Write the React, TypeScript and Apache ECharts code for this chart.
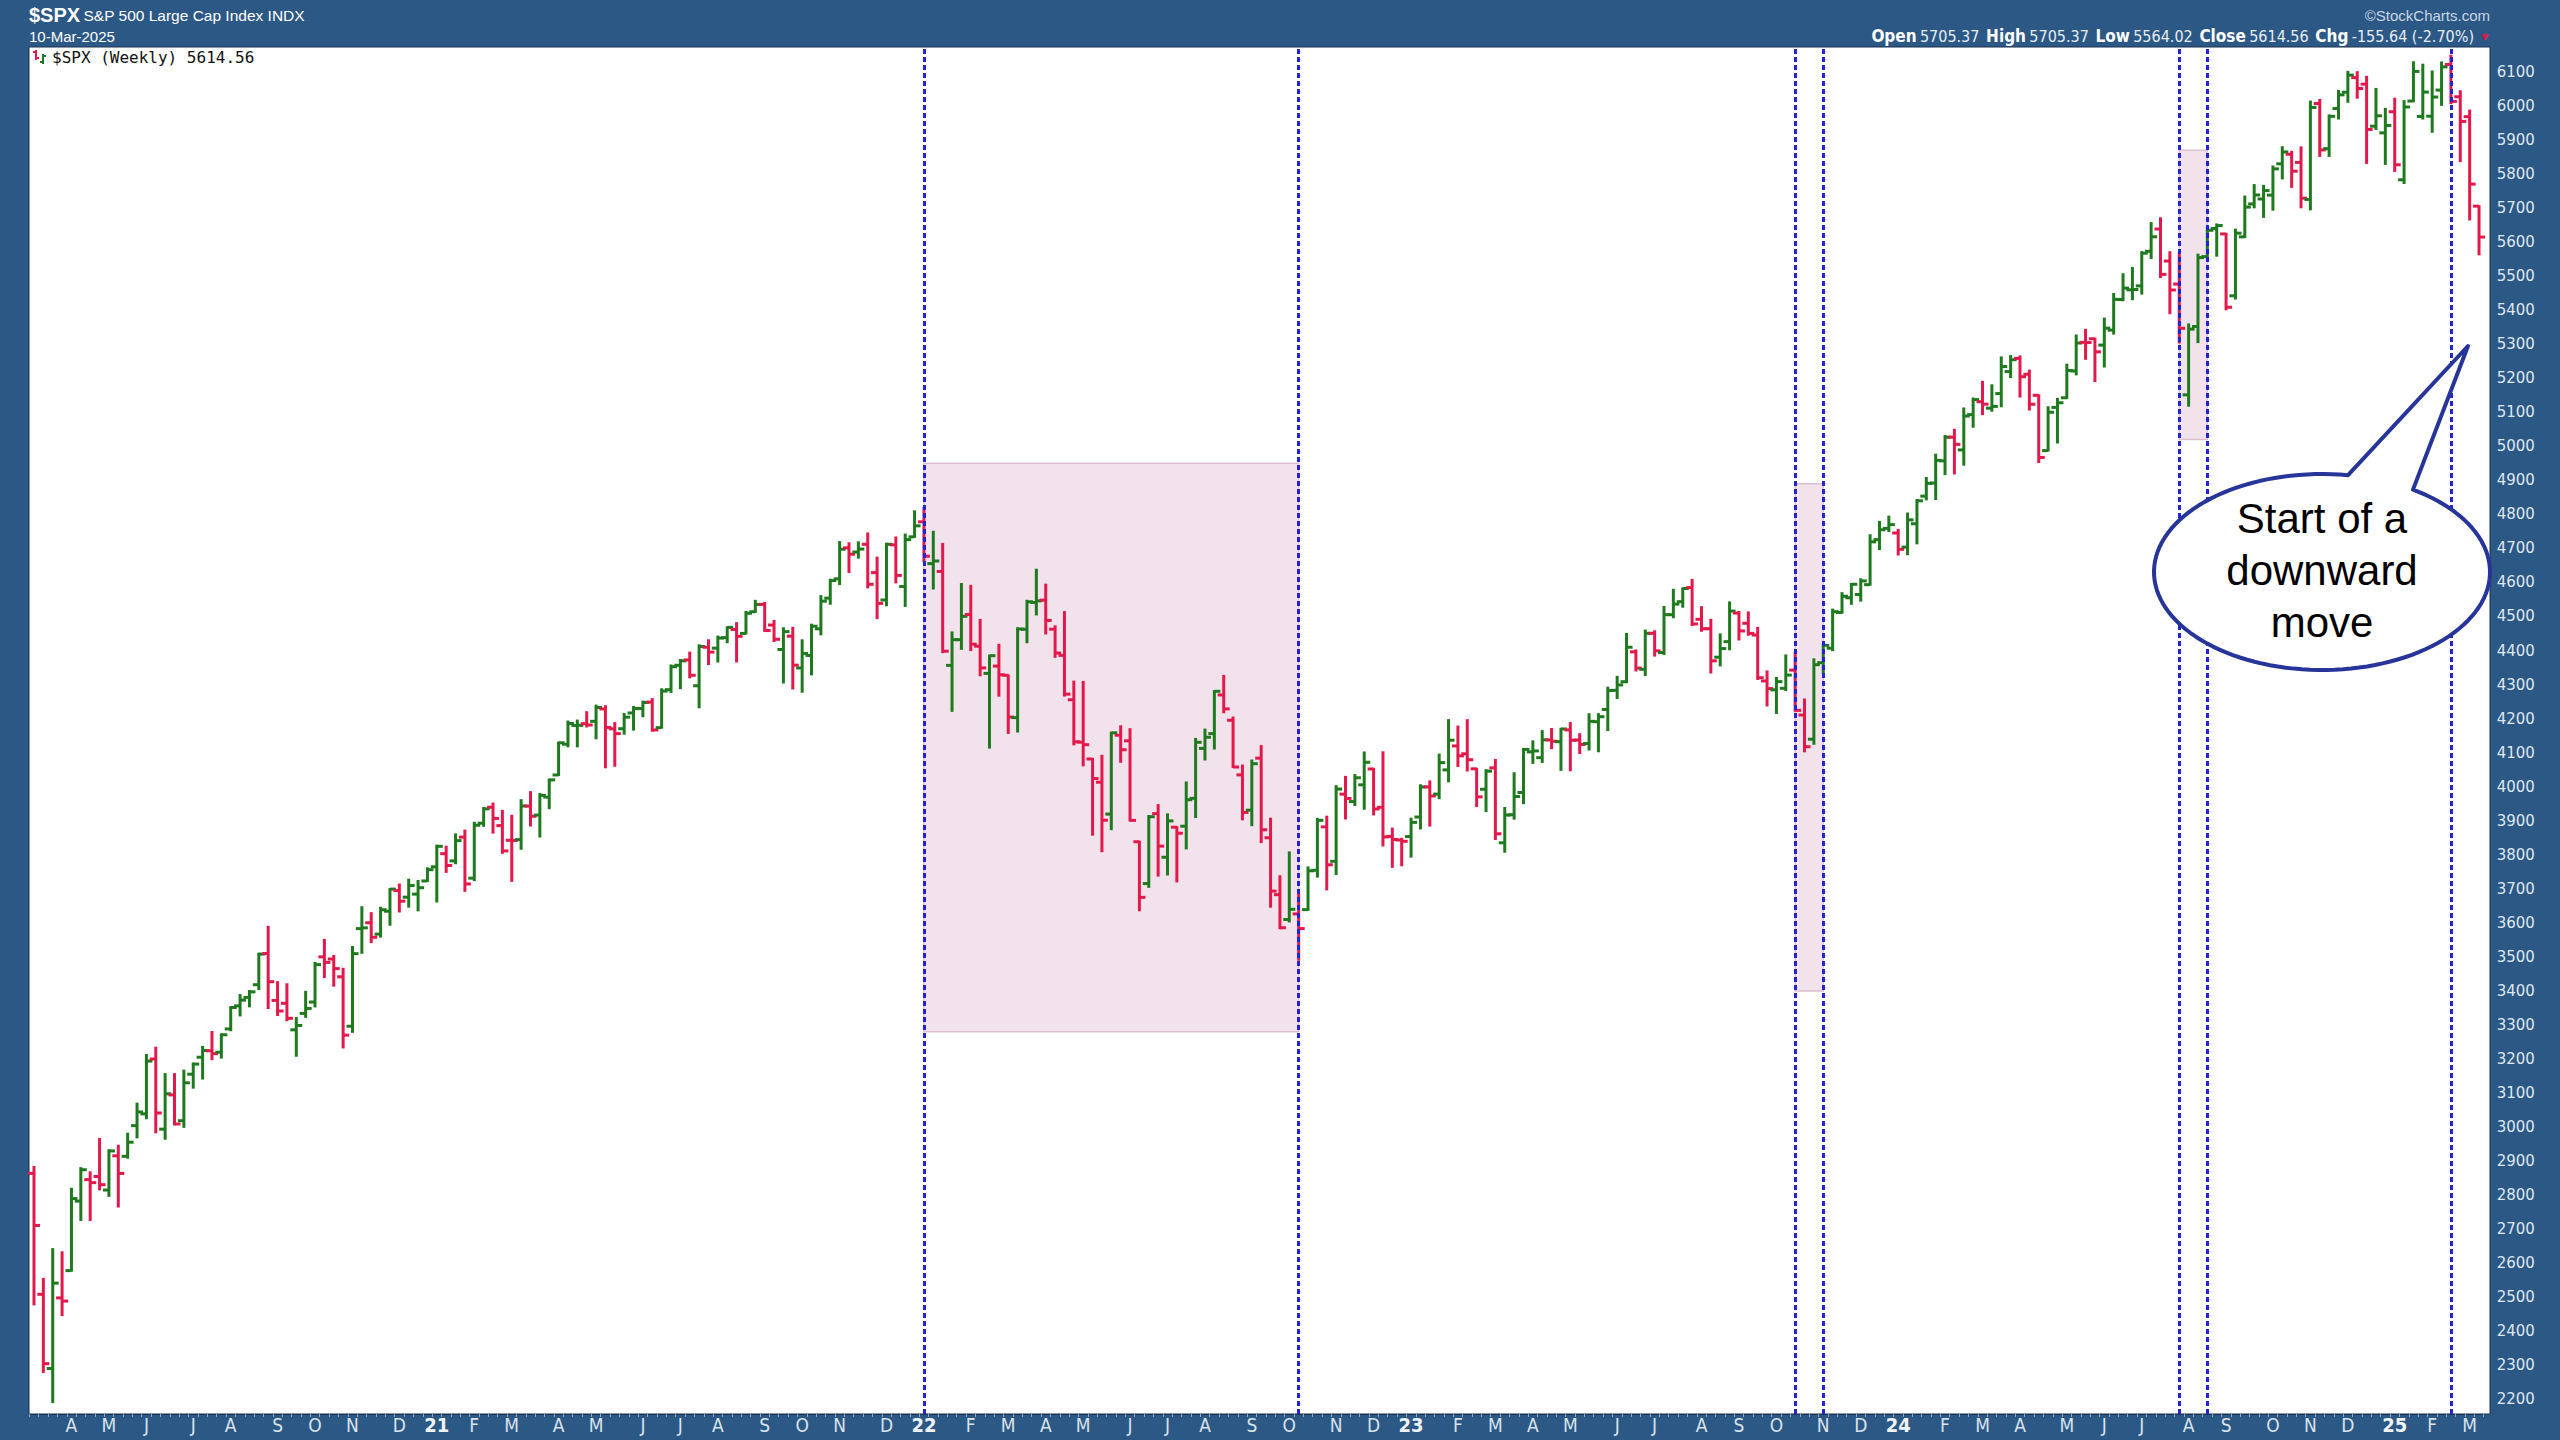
import React, { useEffect, useRef } from "react";
import * as echarts from "echarts";

// ---- Weekly $SPX bars (week starting Monday 2020-03-09 ... 2025-03-10) ----
const FIRST_MONDAY_UTC = [2020, 2, 9];

const opens = [
  2863.9, 2508.6, 2290.7, 2498.1, 2578.3, 2782.5, 2845.6, 2854.7, 2815.0, 2915.5,
  2914.0, 3004.1, 3038.8, 3199.9, 2993.8, 3094.4, 3018.6, 3155.3, 3205.1, 3224.3,
  3219.8, 3288.3, 3356.0, 3380.9, 3418.1, 3509.7, 3371.9, 3363.6, 3285.6, 3333.9,
  3367.3, 3500.0, 3493.7, 3441.4, 3296.2, 3583.0, 3600.2, 3566.8, 3634.2, 3694.7,
  3675.3, 3684.3, 3723.0, 3764.6, 3803.1, 3781.9, 3851.7, 3731.2, 3892.6, 3939.6,
  3885.6, 3842.5, 3844.4, 3942.9, 3916.5, 3969.3, 4034.4, 4124.7, 4179.8, 4185.0,
  4192.0, 4228.3, 4169.9, 4170.2, 4216.5, 4229.3, 4248.3, 4173.4, 4284.9, 4356.5,
  4372.4, 4296.4, 4409.6, 4406.9, 4437.8, 4461.7, 4450.3, 4513.8, 4535.4, 4474.8,
  4402.9, 4442.1, 4348.8, 4385.4, 4463.7, 4553.7, 4610.6, 4701.5, 4689.3, 4712.0,
  4628.8, 4548.4, 4710.3, 4587.9, 4734.0, 4778.1, 4655.3, 4632.2, 4356.3, 4431.8,
  4505.8, 4412.6, 4332.7, 4354.2, 4327.0, 4202.8, 4462.4, 4541.1, 4548.0, 4462.6,
  4385.6, 4255.3, 4130.6, 4081.3, 4013.0, 3919.4, 4151.1, 4134.7, 3838.2, 3715.3,
  3920.8, 3792.6, 3880.9, 3883.8, 3965.7, 4112.4, 4155.9, 4269.4, 4195.1, 4034.6,
  3930.9, 4083.7, 3849.9, 3682.7, 3609.8, 3626.1, 3638.7, 3754.4, 3881.9, 3780.7,
  3978.0, 3956.2, 4005.4, 4052.0, 3939.3, 3853.8, 3843.3, 3853.3, 3910.8, 3999.3,
  3978.1, 4049.3, 4119.6, 4096.6, 4052.4, 3992.4, 4055.2, 3835.1, 3917.5, 3982.9,
  4102.2, 4085.2, 4137.2, 4132.1, 4166.8, 4137.0, 4126.7, 4190.8, 4226.7, 4283.0,
  4308.3, 4396.1, 4344.8, 4450.5, 4394.2, 4505.3, 4543.4, 4584.8, 4491.6, 4464.0,
  4380.3, 4426.0, 4510.1, 4480.0, 4445.4, 4310.6, 4284.5, 4289.0, 4342.4, 4210.4,
  4139.4, 4364.3, 4406.7, 4511.7, 4554.9, 4564.4, 4593.4, 4725.6, 4758.9, 4745.2,
  4703.7, 4772.4, 4853.4, 4892.0, 4957.2, 5026.8, 4989.3, 5093.0, 5131.0, 5112.0,
  5154.8, 5219.5, 5258.0, 5211.4, 5149.7, 4987.3, 5114.1, 5142.4, 5221.1, 5305.4,
  5315.9, 5297.2, 5341.2, 5431.1, 5459.6, 5471.1, 5572.8, 5638.2, 5544.2, 5476.6,
  5151.1, 5351.9, 5557.2, 5639.7, 5623.9, 5442.1, 5615.2, 5711.9, 5726.5, 5737.8,
  5829.8, 5857.8, 5833.9, 5725.2, 6007.0, 5874.2, 5992.3, 6040.1, 6083.0, 6063.8,
  5940.3, 5920.7, 5982.8, 5782.8, 6014.1, 5969.0, 5969.7, 6046.4, 6121.6, 6026.7,
  5968.3, 5705.4,
];

const highs = [
  2882.6, 2553.9, 2641.4, 2632.0, 2818.6, 2879.2, 2867.0, 2965.0, 2932.0, 2945.0,
  2980.3, 3068.7, 3211.7, 3233.1, 3155.5, 3155.5, 3165.8, 3186.8, 3235.3, 3279.3,
  3272.0, 3352.0, 3387.9, 3399.5, 3509.4, 3588.1, 3425.6, 3419.5, 3320.3, 3397.2,
  3482.3, 3549.9, 3502.4, 3464.9, 3529.0, 3646.0, 3628.5, 3644.3, 3699.2, 3712.4,
  3726.7, 3723.0, 3760.2, 3826.7, 3823.6, 3859.8, 3870.9, 3894.0, 3937.2, 3950.4,
  3928.7, 3914.5, 3960.3, 3983.9, 3978.2, 4020.6, 4129.5, 4191.3, 4194.2, 4218.8,
  4238.0, 4236.4, 4186.7, 4213.4, 4234.1, 4249.7, 4257.2, 4286.1, 4356.0, 4372.2,
  4393.7, 4415.2, 4430.0, 4440.8, 4468.0, 4480.3, 4513.3, 4545.9, 4539.5, 4486.9,
  4465.4, 4466.6, 4429.9, 4475.8, 4559.7, 4608.1, 4718.5, 4714.9, 4717.8, 4743.8,
  4672.9, 4713.6, 4732.0, 4740.7, 4808.9, 4818.6, 4748.8, 4713.0, 4453.2, 4595.3,
  4590.0, 4490.0, 4385.0, 4416.8, 4327.0, 4465.4, 4546.0, 4637.3, 4593.5, 4471.0,
  4512.9, 4308.5, 4307.7, 4081.3, 4090.7, 4158.5, 4177.5, 4168.8, 3838.2, 3913.7,
  3945.9, 3918.5, 3880.9, 4012.4, 4140.2, 4167.7, 4280.5, 4325.3, 4203.0, 4062.0,
  4076.8, 4119.3, 3906.0, 3736.7, 3806.9, 3685.4, 3762.8, 3905.4, 3911.8, 4001.5,
  4028.8, 4034.0, 4100.5, 4052.5, 4101.0, 3876.8, 3846.7, 3906.0, 4004.0, 4015.4,
  4094.2, 4195.4, 4176.5, 4195.4, 4052.4, 4048.3, 4078.5, 3937.3, 4039.5, 4110.8,
  4133.1, 4163.2, 4169.5, 4170.1, 4186.9, 4154.3, 4212.9, 4212.9, 4290.7, 4322.6,
  4448.5, 4400.2, 4458.5, 4456.5, 4527.8, 4578.4, 4582.5, 4607.1, 4527.4, 4490.3,
  4447.2, 4541.3, 4513.0, 4512.0, 4466.4, 4338.5, 4319.2, 4385.5, 4393.6, 4256.0,
  4374.0, 4418.0, 4520.1, 4568.4, 4595.6, 4609.2, 4738.6, 4778.0, 4793.3, 4754.3,
  4802.4, 4842.1, 4906.7, 4975.3, 5030.1, 5048.4, 5111.1, 5140.3, 5189.3, 5179.1,
  5261.1, 5264.9, 5264.0, 5222.2, 5149.7, 5114.6, 5139.1, 5239.7, 5325.5, 5341.9,
  5315.9, 5375.1, 5447.3, 5505.5, 5523.6, 5570.3, 5655.6, 5669.7, 5570.0, 5566.2,
  5358.0, 5563.0, 5643.2, 5651.6, 5623.9, 5636.3, 5733.6, 5767.4, 5765.0, 5822.0,
  5878.5, 5865.0, 5878.0, 6012.5, 6017.3, 5972.0, 6044.0, 6100.0, 6099.0, 6085.2,
  6049.8, 5991.0, 6021.0, 6014.0, 6128.2, 6120.9, 6101.0, 6127.5, 6147.4, 6043.0,
  5986.1, 5705.4,
];

const lows = [
  2478.9, 2280.5, 2191.9, 2447.5, 2578.3, 2727.1, 2727.1, 2816.8, 2797.9, 2766.6,
  2910.0, 2969.8, 3025.8, 2984.5, 2965.7, 3007.8, 3000.5, 3115.7, 3142.5, 3199.2,
  3204.1, 3284.5, 3327.9, 3354.7, 3405.4, 3349.6, 3329.3, 3313.9, 3209.5, 3323.7,
  3354.3, 3440.5, 3415.3, 3233.9, 3279.7, 3511.9, 3543.3, 3559.5, 3594.4, 3633.4,
  3647.5, 3636.5, 3723.0, 3662.7, 3749.6, 3775.0, 3694.1, 3725.6, 3884.9, 3865.0,
  3805.6, 3723.3, 3817.6, 3886.0, 3853.5, 3936.8, 4034.1, 4118.4, 4118.4, 4176.8,
  4142.0, 4056.9, 4061.4, 4155.6, 4167.6, 4206.9, 4164.4, 4173.4, 4278.4, 4289.4,
  4321.1, 4233.1, 4360.0, 4367.7, 4424.3, 4367.7, 4450.3, 4513.3, 4457.7, 4427.8,
  4305.9, 4288.5, 4278.9, 4329.9, 4447.5, 4537.4, 4595.1, 4630.9, 4672.8, 4585.4,
  4495.1, 4532.9, 4600.2, 4531.1, 4734.0, 4662.7, 4582.2, 4395.3, 4222.6, 4405.0,
  4401.4, 4327.2, 4114.7, 4267.3, 4157.9, 4161.7, 4424.3, 4506.0, 4450.0, 4381.3,
  4267.6, 4124.3, 4062.5, 3858.9, 3810.3, 3875.1, 4073.0, 3900.2, 3636.9, 3705.7,
  3738.7, 3742.1, 3721.6, 3818.6, 3910.7, 4079.8, 4112.1, 4218.7, 4057.7, 3903.9,
  3886.8, 3837.1, 3647.4, 3584.1, 3604.0, 3491.6, 3638.0, 3735.7, 3698.2, 3743.5,
  3906.5, 3945.9, 3935.1, 3918.4, 3827.3, 3764.5, 3769.1, 3794.3, 3877.3, 3885.5,
  3966.1, 4015.6, 4060.8, 4047.5, 3943.1, 3928.2, 3846.3, 3808.9, 3906.0, 3951.5,
  4069.8, 4072.6, 4113.2, 4049.4, 4048.3, 4098.9, 4109.2, 4104.0, 4166.2, 4260.2,
  4307.0, 4341.3, 4328.1, 4385.1, 4389.9, 4497.8, 4528.6, 4474.6, 4457.9, 4335.3,
  4356.3, 4403.6, 4432.4, 4446.3, 4316.4, 4238.6, 4216.5, 4283.8, 4223.0, 4103.8,
  4126.0, 4334.2, 4401.0, 4511.0, 4537.2, 4546.5, 4593.4, 4697.8, 4751.0, 4682.1,
  4682.8, 4714.8, 4844.1, 4845.2, 4918.1, 4920.3, 4946.0, 5057.3, 5094.4, 5104.4,
  5117.5, 5203.4, 5146.1, 5107.9, 4953.6, 4987.3, 5011.1, 5142.4, 5211.2, 5256.9,
  5191.7, 5234.3, 5331.0, 5429.0, 5432.0, 5448.4, 5553.0, 5497.0, 5390.9, 5305.0,
  5119.3, 5306.0, 5555.0, 5560.0, 5402.6, 5434.0, 5615.0, 5702.0, 5674.0, 5695.0,
  5787.0, 5762.0, 5702.0, 5696.0, 5853.0, 5853.0, 5963.0, 6012.0, 6024.0, 5832.3,
  5932.0, 5829.5, 5809.0, 5773.3, 6014.0, 5962.9, 5923.9, 6003.0, 6008.0, 5837.7,
  5666.3, 5564.0,
];

const closes = [
  2711.0, 2304.9, 2541.5, 2488.7, 2789.8, 2874.6, 2836.7, 2830.7, 2929.8, 2863.7,
  2955.5, 3044.3, 3193.9, 3041.3, 3097.7, 3009.1, 3130.0, 3185.0, 3224.7, 3215.6,
  3271.1, 3351.3, 3372.9, 3397.2, 3508.0, 3427.0, 3341.0, 3319.5, 3298.5, 3348.4,
  3477.1, 3483.8, 3465.4, 3270.0, 3509.4, 3585.2, 3557.5, 3638.4, 3699.1, 3663.5,
  3709.4, 3703.1, 3756.1, 3824.7, 3768.3, 3841.5, 3714.2, 3886.8, 3934.8, 3906.7,
  3811.2, 3841.9, 3943.3, 3913.1, 3974.5, 4019.9, 4128.8, 4185.5, 4180.2, 4181.2,
  4232.6, 4173.9, 4155.9, 4204.1, 4229.9, 4247.4, 4166.5, 4280.7, 4352.3, 4369.6,
  4327.2, 4411.8, 4395.3, 4436.5, 4468.0, 4441.7, 4509.4, 4535.4, 4458.6, 4433.0,
  4455.5, 4357.0, 4391.3, 4471.4, 4544.9, 4605.4, 4697.5, 4682.9, 4698.0, 4594.6,
  4538.4, 4712.0, 4620.6, 4725.8, 4766.2, 4677.0, 4662.9, 4397.9, 4431.9, 4500.5,
  4418.6, 4348.9, 4384.7, 4328.9, 4204.3, 4463.1, 4543.1, 4545.9, 4488.3, 4392.6,
  4271.8, 4131.9, 4123.3, 4023.9, 3901.4, 4158.2, 4108.5, 3900.9, 3674.8, 3911.7,
  3825.3, 3899.4, 3863.2, 3961.6, 4130.3, 4145.2, 4280.2, 4228.5, 4057.7, 3924.3,
  4067.4, 3873.3, 3693.2, 3585.6, 3639.7, 3583.1, 3752.8, 3901.1, 3770.6, 3992.9,
  3965.3, 4026.1, 4071.7, 3934.4, 3852.4, 3844.8, 3839.5, 3895.1, 3999.1, 3972.6,
  4070.6, 4136.5, 4090.5, 4079.1, 3970.0, 4045.6, 3861.6, 3916.6, 3971.0, 4109.3,
  4105.0, 4137.6, 4133.5, 4169.5, 4136.3, 4124.1, 4192.0, 4205.5, 4282.4, 4298.9,
  4409.6, 4348.3, 4450.4, 4399.0, 4505.4, 4536.3, 4582.2, 4478.0, 4464.1, 4369.7,
  4405.7, 4515.8, 4457.5, 4450.3, 4320.1, 4288.1, 4308.5, 4327.8, 4224.2, 4117.4,
  4358.3, 4415.2, 4514.0, 4559.3, 4594.6, 4604.4, 4719.2, 4754.6, 4769.8, 4697.2,
  4783.8, 4839.8, 4891.0, 4958.6, 5026.6, 5005.6, 5088.8, 5137.1, 5123.7, 5117.1,
  5234.2, 5254.4, 5204.3, 5123.4, 4967.2, 5100.0, 5127.8, 5222.7, 5303.3, 5304.7,
  5277.5, 5347.0, 5431.6, 5464.6, 5460.5, 5567.2, 5615.4, 5505.0, 5459.1, 5346.6,
  5344.2, 5554.3, 5634.6, 5648.4, 5408.4, 5626.0, 5702.6, 5738.2, 5751.1, 5815.0,
  5864.7, 5808.1, 5728.8, 5995.5, 5870.6, 5969.3, 6032.4, 6090.3, 6051.1, 5930.9,
  5970.8, 5942.5, 5827.0, 5996.7, 6101.2, 6040.5, 6026.0, 6114.6, 6013.1, 5954.5,
  5770.2, 5614.6,
];

// vertical marker lines (week index, 0-based)
const markerWeeks = [95, 135, 188, 191, 229, 232, 258];
// shaded zones
const zoneFrom = [95, 188, 229];
const zoneTo = [135, 191, 232];
const zoneTop = [4950, 4890, 5870];
const zoneBottom = [3280, 3400, 5020];

const yTickLabels = { min: 2100, max: 6200, step: 100 };
const monthLetters = ["", "F", "M", "A", "M", "J", "J", "A", "S", "O", "N", "D"];

const weekDates: string[] = opens.map((_, i) => {
  const d = new Date(Date.UTC(FIRST_MONDAY_UTC[0], FIRST_MONDAY_UTC[1], FIRST_MONDAY_UTC[2] + 7 * i));
  return d.toISOString().slice(0, 10);
});

const GREEN = "#1f7a1f";
const RED = "#e3194b";
const BG = "#2c5886";
const NARROW = "'Liberation Sans Narrow', 'DejaVu Sans Condensed', 'Liberation Sans', sans-serif";
const SANS = "'Liberation Sans', Arial, sans-serif";

// plot geometry (pixels)
const PLOT_L = 29, PLOT_T = 47, PLOT_R = 2490, PLOT_B = 1414;
const GRID_L = 29.3, GRID_R = 2483.7, GRID_T = 37.8, GRID_B = 1433.4;

function bubblePoints(): number[][] {
  const cx = 2322, cy = 572, rx = 168, ry = 98;
  const rightBaseX = 2413, leftBaseX = 2348;
  const tA = -Math.acos((rightBaseX - cx) / rx);
  const tB = -Math.acos((leftBaseX - cx) / rx) + Math.PI * 2;
  const pts: number[][] = [];
  const n = 120;
  for (let k = 0; k <= n; k++) {
    const t = tA + ((tB - tA) * k) / n;
    pts.push([cx + rx * Math.cos(t), cy + ry * Math.sin(t)]);
  }
  pts.push([2468, 346]);
  return pts;
}

export default function App() {
  const ref = useRef<HTMLDivElement>(null);
  useEffect(() => {
    if (!ref.current) return;
    const chart = echarts.init(ref.current, undefined, { renderer: "svg" });
    const data = weekDates.map((d, i) => [i, opens[i], highs[i], lows[i], closes[i]]);

    const option: any = {
      animation: false,
      backgroundColor: BG,
      grid: { left: GRID_L, right: 2560 - GRID_R, top: GRID_T, bottom: 1440 - GRID_B, containLabel: false },
      xAxis: {
        type: "category",
        data: weekDates,
        boundaryGap: true,
        offset: -(GRID_B - PLOT_B),
        axisLine: { show: true, lineStyle: { color: "#1a3350", width: 1 } },
        axisTick: { show: true, interval: 0, length: 3, lineStyle: { color: "#8ea7c1" } },
        splitLine: { show: false },
        axisLabel: {
          interval: (index: number) => {
            if (index === 0) return false;
            return weekDates[index].slice(5, 7) !== weekDates[index - 1].slice(5, 7);
          },
          formatter: (value: string) => {
            const m = parseInt(value.slice(5, 7), 10);
            if (m === 1) return "{y|" + value.slice(2, 4) + "}";
            return "{m|" + monthLetters[m - 1] + "}";
          },
          margin: 1,
          rich: {
            m: { fontFamily: NARROW, fontSize: 19, color: "#d9e3ec" },
            y: { fontFamily: NARROW, fontSize: 20, fontWeight: "bold", color: "#eef3f8" },
          },
        },
      },
      yAxis: {
        type: "value",
        position: "right",
        min: yTickLabels.min,
        max: yTickLabels.max,
        interval: yTickLabels.step,
        axisLine: { show: false },
        axisTick: { show: false },
        splitLine: { show: false },
        axisLabel: {
          margin: 13,
          color: "#dfe7ef",
          fontFamily: "'DejaVu Sans', sans-serif",
          fontSize: 15,
          showMinLabel: false,
          showMaxLabel: false,
          formatter: (v: number) => String(Math.round(v)),
        },
      },
      series: [
        {
          type: "custom",
          name: "$SPX",
          data,
          encode: { x: 0, y: [1, 2, 3, 4] },
          clip: false,
          renderItem: (params: any, api: any) => {
            const idx = api.value(0);
            const o = api.value(1), h = api.value(2), l = api.value(3), c = api.value(4);
            const pH = api.coord([idx, h]);
            const pL = api.coord([idx, l]);
            const pO = api.coord([idx, o]);
            const pC = api.coord([idx, c]);
            const x = pH[0];
            const t = 6;
            const color = c >= o ? GREEN : RED;
            const st = { stroke: color, lineWidth: 3 };
            return {
              type: "group",
              children: [
                { type: "line", shape: { x1: x, y1: pH[1] - 1, x2: x, y2: pL[1] + 1 }, style: st },
                { type: "line", shape: { x1: x - t, y1: pO[1], x2: x, y2: pO[1] }, style: st },
                { type: "line", shape: { x1: x, y1: pC[1], x2: x + t, y2: pC[1] }, style: st },
              ],
            };
          },
          markArea: {
            silent: true,
            itemStyle: { color: "rgba(200,140,175,0.25)", borderColor: "#dcbfd0", borderWidth: 1.5 },
            data: zoneFrom.map((f, k) => [
              { xAxis: weekDates[f], yAxis: zoneTop[k] },
              { xAxis: weekDates[zoneTo[k]], yAxis: zoneBottom[k] },
            ]),
          },
          markLine: {
            silent: true,
            symbol: ["none", "none"],
            label: { show: false },
            lineStyle: { color: "#2222d6", width: 3, type: [5, 3] },
            data: markerWeeks.map((w) => [
              { coord: [weekDates[w], 2157] },
              { coord: [weekDates[w], 6173] },
            ]),
          },
        },
      ],
      graphic: [
        {
          type: "rect",
          z: -1,
          silent: true,
          shape: { x: PLOT_L, y: PLOT_T, width: PLOT_R - PLOT_L, height: PLOT_B - PLOT_T },
          style: { fill: "#ffffff", stroke: "#1a3350", lineWidth: 1 },
        },
        {
          type: "text",
          x: 29,
          y: 15,
          style: {
            text: "{a|$SPX} {b|S&P 500 Large Cap Index INDX}",
            verticalAlign: "middle",
            rich: {
              a: { fontFamily: SANS, fontSize: 20, fontWeight: "bold", fill: "#ffffff" },
              b: { fontFamily: SANS, fontSize: 15.5, fill: "#ffffff" },
            },
          },
        },
        {
          type: "text",
          x: 29,
          y: 36,
          style: { text: "10-Mar-2025", fontFamily: SANS, fontSize: 15, fill: "#ffffff", verticalAlign: "middle" },
        },
        {
          type: "text",
          x: 2490,
          y: 15,
          style: { text: "©StockCharts.com", fontFamily: SANS, fontSize: 15, fill: "#c9d6e4", textAlign: "right", verticalAlign: "middle" },
        },
        {
          type: "text",
          x: 2474,
          y: 36,
          style: {
            text: "{b|Open} {v|5705.37}  {b|High} {v|5705.37}  {b|Low} {v|5564.02}  {b|Close} {v|5614.56}  {b|Chg} {v|-155.64 (-2.70%)}",
            textAlign: "right",
            verticalAlign: "middle",
            rich: {
              b: { fontFamily: NARROW, fontSize: 17, fontWeight: "bold", fill: "#ffffff" },
              v: { fontFamily: NARROW, fontSize: 16, fill: "#e6edf4" },
            },
          },
        },
        {
          type: "text",
          x: 2485,
          y: 37,
          style: { text: "▼", fontFamily: "'DejaVu Sans', sans-serif", fontSize: 9, fill: RED, textAlign: "center", verticalAlign: "middle" },
        },
        // legend icon
        { type: "line", shape: { x1: 36, y1: 50, x2: 36, y2: 60 }, style: { stroke: RED, lineWidth: 2 } },
        { type: "line", shape: { x1: 33, y1: 52, x2: 36, y2: 52 }, style: { stroke: RED, lineWidth: 2 } },
        { type: "line", shape: { x1: 36, y1: 58, x2: 39, y2: 58 }, style: { stroke: RED, lineWidth: 2 } },
        { type: "line", shape: { x1: 43, y1: 54, x2: 43, y2: 64 }, style: { stroke: GREEN, lineWidth: 2 } },
        { type: "line", shape: { x1: 40, y1: 62, x2: 43, y2: 62 }, style: { stroke: GREEN, lineWidth: 2 } },
        { type: "line", shape: { x1: 43, y1: 56, x2: 46, y2: 56 }, style: { stroke: GREEN, lineWidth: 2 } },
        {
          type: "text",
          x: 52,
          y: 57,
          style: { text: "$SPX (Weekly) 5614.56", fontFamily: "'DejaVu Sans Mono', monospace", fontSize: 16, fill: "#111111", verticalAlign: "middle" },
        },
        // speech bubble
        {
          type: "polygon",
          z: 100,
          shape: { points: bubblePoints() },
          style: { fill: "#ffffff", stroke: "#27359a", lineWidth: 4, lineJoin: "round" },
        },
        {
          type: "text",
          z: 101,
          x: 2322,
          y: 570,
          style: {
            text: "Start of a\ndownward\nmove",
            fontFamily: SANS,
            fontSize: 42,
            lineHeight: 52,
            fill: "#000000",
            textAlign: "center",
            verticalAlign: "middle",
          },
        },
      ],
    };
    chart.setOption(option);
    return () => chart.dispose();
  }, []);

  return (
    <div
      ref={ref}
      style={{ position: "absolute", left: 0, top: 0, width: 2560, height: 1440 }}
    />
  );
}
